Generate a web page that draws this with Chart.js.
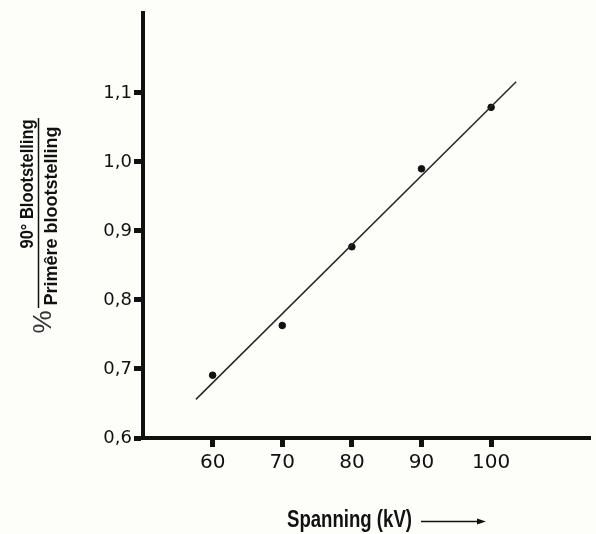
<!DOCTYPE html>
<html><head><meta charset="utf-8">
<script src="https://cdn.jsdelivr.net/npm/chart.js@4"></script>
<style>html,body{margin:0;padding:0;background:#fdfdf9}#c{display:block}</style>
</head><body>
<canvas id="c" width="596" height="534"></canvas>
<script>
const voltages=[60,70,80,90,100];
const ratios=[0.691,0.763,0.877,0.990,1.079];
const fitX=[57.6,103.6];
const fitY=[0.656,1.116];
const xTicks=[60,70,80,90,100];
const yTicks=[0.6,0.7,0.8,0.9,1.0,1.1];
const xTitle="Spanning (kV)";
const yTitleTop="90° Blootstelling";
const yTitleBottom="Primêre blootstelling";
const yTitleUnit="%";

const ink='#111111';
const bgPlugin={id:'bg',beforeDraw(c){const x=c.ctx;x.save();x.fillStyle='#fdfdf9';x.fillRect(0,0,c.width,c.height);x.restore();}};
const titlePlugin={id:'titles',afterDraw(c){
  const x=c.ctx;x.save();x.fillStyle=ink;x.strokeStyle=ink;
  // x title
  x.font='bold 23px "Liberation Sans Narrow","Liberation Sans",sans-serif';
  x.textAlign='left';x.textBaseline='alphabetic';
  x.fillText(xTitle,287,527,125);
  x.lineWidth=1.3;x.beginPath();x.moveTo(421,521.5);x.lineTo(481,521.5);x.stroke();
  x.beginPath();x.moveTo(486,521.5);x.lineTo(477,518.5);x.lineTo(477,524.5);x.closePath();x.fill();
  // y title
  x.textAlign='center';
  x.font='bold 18px "Liberation Sans Narrow","Liberation Sans",sans-serif';
  x.save();x.translate(33,184);x.rotate(-Math.PI/2);x.fillText(yTitleTop,0,0,129);x.restore();
  x.save();x.translate(57,216);x.rotate(-Math.PI/2);x.fillText(yTitleBottom,0,0,185);x.restore();
  x.lineWidth=1.5;x.beginPath();x.moveTo(38.5,118);x.lineTo(38.5,308);x.stroke();
  x.font='26px "Liberation Sans",sans-serif';x.fillStyle='#333';
  x.save();x.translate(51,322);x.rotate(-Math.PI/2);x.fillText(yTitleUnit,0,0);x.restore();
  x.restore();
}};

new Chart(document.getElementById('c'),{
  type:'scatter',
  data:{datasets:[
    {type:'line',data:fitX.map((v,i)=>({x:v,y:fitY[i]})),borderColor:'#262626',borderWidth:1.5,pointRadius:0,fill:false},
    {type:'scatter',data:voltages.map((v,i)=>({x:v,y:ratios[i]})),backgroundColor:ink,borderColor:ink,pointRadius:3.3}
  ]},
  options:{
    responsive:false,animation:false,devicePixelRatio:1,
    layout:{padding:{left:0,right:6,top:7,bottom:56}},
    plugins:{legend:{display:false},tooltip:{enabled:false}},
    scales:{
      x:{type:'linear',min:50,max:114.2,
        afterBuildTicks:s=>{s.ticks=xTicks.map(v=>({value:v}));},
        afterFit:s=>{s.height=40;},
        grid:{drawOnChartArea:false,drawTicks:true,tickLength:9,tickWidth:5,tickColor:ink},
        border:{display:true,color:ink,width:4},
        ticks:{color:ink,font:{family:'DejaVu Sans',size:20},padding:4,maxRotation:0,callback:v=>String(v)}
      },
      y:{type:'linear',min:0.6,max:1.216,
        afterBuildTicks:s=>{s.ticks=yTicks.map(v=>({value:v}));},
        afterFit:s=>{s.width=143;},
        grid:{drawOnChartArea:false,drawTicks:true,tickLength:9,tickWidth:5,tickColor:ink},
        border:{display:true,color:ink,width:4},
        ticks:{color:ink,font:{family:'DejaVu Sans',size:18},padding:2,callback:v=>v.toFixed(1).replace('.',',')}
      }
    }
  },
  plugins:[bgPlugin,titlePlugin]
});
</script>
</body></html>
